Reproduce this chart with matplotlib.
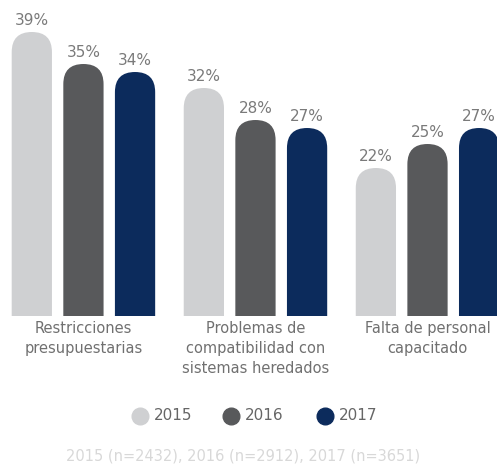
import matplotlib.pyplot as plt
from matplotlib.patches import FancyBboxPatch
import numpy as np

# data
categories = ['Restricciones\npresupuestarias',
              'Problemas de\ncompatibilidad con\nsistemas heredados',
              'Falta de personal\ncapacitado']
years = ['2015', '2016', '2017']
v2015 = [39, 32, 22]
v2016 = [35, 28, 25]
v2017 = [34, 27, 27]
colors = ['#cfd0d2', '#58595b', '#0c2b5c']
footer = '2015 (n=2432), 2016 (n=2912), 2017 (n=3651)'

W, H = 497, 466
fig = plt.figure(figsize=(W / 100, H / 100), dpi=100)
# bars axes: bottom cut at pixel row 316
ax = fig.add_axes([0, 1 - 316 / H, 1, 316 / H])
ax.set_xlim(-0.485, 2.404)
ax.set_ylim(3.5, 3.5 + 316 / 8)
ax.axis('off')

px_x = 2.889 / W
px_y = 1 / 8
aspect = px_y / px_x

x = np.arange(len(categories))
width = 0.234
offsets = [-0.30, 0, 0.30]
for series, off, col in zip([v2015, v2016, v2017], offsets, colors):
    for xi, v in zip(x, series):
        left = xi + off - width / 2
        p = FancyBboxPatch((left, -5), width, v + 5,
                           boxstyle='round,pad=0,rounding_size=%f' % (width / 2),
                           mutation_aspect=aspect, fc=col, ec='none')
        ax.add_patch(p)
        ax.annotate('%d%%' % v, (xi + off, v), xytext=(0, 8.5), textcoords='offset points',
                    ha='center', va='center', fontsize=11, color='#7a7a7a',
                    annotation_clip=False)

# overlay in pixel coords for labels, legend and footer
ov = fig.add_axes([0, 0, 1, 1])
ov.set_xlim(0, W)
ov.set_ylim(H, 0)
ov.axis('off')

for xi, c in zip(x, categories):
    xp = (xi + 0.485) / px_x
    ov.text(xp, 321, c, ha='center', va='top', fontsize=10.5,
            color='#707070', linespacing=1.42)

leg_x = [140, 231, 325]
for lx, yr, col in zip(leg_x, years, colors):
    ov.plot(lx, 416, 'o', ms=12, mfc=col, mec=col)
    ov.text(lx + 14, 416, yr, ha='left', va='center', fontsize=11, color='#666666')

ov.text(243, 456, footer, ha='center', va='center', fontsize=10.5, color='#d8d8d8')

fig.savefig('out.png', dpi=100)
